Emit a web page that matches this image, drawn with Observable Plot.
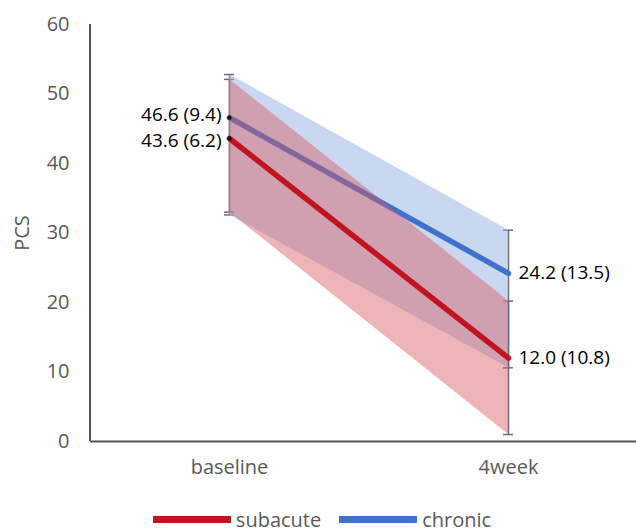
<!DOCTYPE html>
<html>
<head>
<meta charset="utf-8">
<script src="https://cdn.jsdelivr.net/npm/d3@7"></script>
<script src="https://cdn.jsdelivr.net/npm/@observablehq/plot@0.6"></script>
<style>
  html, body { margin: 0; padding: 0; background: #fff; }
  #chart { width: 636px; }
  .legend { display: flex; justify-content: center; align-items: center; gap: 18px; height: 36px; padding-top: 6px;
    font-family: "Open Sans", sans-serif; font-size: 20px; color: #595959; margin-left: 8px; }
  .legend .item { display: flex; align-items: center; gap: 5px; }
  .legend .sw { width: 78px; height: 7px; display: inline-block; }
</style>
</head>
<body>
<div id="chart"></div>
<script>
const timepoints = ["baseline", "4week"];
const seriesNames = ["subacute", "chronic"];
const subacuteMean = [43.6, 12.0];
const subacuteLow = [33.0, 1.0];
const subacuteHigh = [52.1, 20.2];
const chronicMean = [46.6, 24.2];
const chronicLow = [32.6, 10.6];
const chronicHigh = [52.8, 30.4];
const subacuteLabels = ["43.6 (6.2)", "12.0 (10.8)"];
const chronicLabels = ["46.6 (9.4)", "24.2 (13.5)"];
const yTicks = [0, 10, 20, 30, 40, 50, 60];

const colors = { subacute: "#c0141e", chronic: "#3f72cc" };

function rows(name, mean, low, high, labels, shift) {
  return timepoints.map((t, i) => ({ series: name, time: t, mean: mean[i], low: low[i], high: high[i], label: labels[i], shift }));
}
const subacute = rows("subacute", subacuteMean, subacuteLow, subacuteHigh, subacuteLabels, 2);
const chronic = rows("chronic", chronicMean, chronicLow, chronicHigh, chronicLabels, -3);
const all = [...subacute, ...chronic];
const caps = all.flatMap(d => [{ time: d.time, v: d.low }, { time: d.time, v: d.high }]);

const font = "Open Sans, sans-serif";

const plot = Plot.plot({
  width: 636,
  height: 495,
  marginLeft: 90,
  marginRight: 0,
  marginTop: 24,
  marginBottom: 54,
  style: { fontFamily: font, fontSize: "20px", color: "#595959", background: "#fff" },
  x: { type: "point", domain: timepoints, range: [229, 508], padding: 0 },
  y: { domain: [0, 60] },
  marks: [
    Plot.axisX({ tickSize: 0, tickPadding: 18, fontSize: 20, label: null }),
    Plot.axisY({ ticks: yTicks, tickSize: 0, tickPadding: 21, fontSize: 20, label: "PCS", labelAnchor: "center", labelOffset: 76, labelArrow: "none" }),
    Plot.ruleX(all, { x: "time", y1: "low", y2: "high", stroke: "#6b6b7a", strokeWidth: 1.5 }),
    Plot.ruleY(caps, { x1: "time", x2: "time", y: "v", insetLeft: -5, insetRight: -5, stroke: "#6b6b7a", strokeWidth: 1.5 }),
    Plot.areaY(chronic, { x: "time", y1: "low", y2: "high", fill: "#9fb6e6", fillOpacity: 0.55 }),
    Plot.lineY(chronic, { x: "time", y: "mean", stroke: colors.chronic, strokeWidth: 5.5 }),
    Plot.areaY(subacute, { x: "time", y1: "low", y2: "high", fill: "#d85c62", fillOpacity: 0.45 }),
    Plot.lineY(subacute, { x: "time", y: "mean", stroke: colors.subacute, strokeWidth: 5.5 }),
    Plot.ruleY([0], { stroke: "#555", strokeWidth: 2 }),
    Plot.dot(all.filter(d => d.time === "baseline"), { x: "time", y: "mean", r: 2.2, fill: "#111" }),
    Plot.text(subacute.filter(d => d.time === "baseline"), { x: "time", y: "mean", text: "label", textAnchor: "end", dx: -8, dy: 2, fill: "#000", fontSize: 19, fontFamily: font }),
    Plot.text(chronic.filter(d => d.time === "baseline"), { x: "time", y: "mean", text: "label", textAnchor: "end", dx: -8, dy: -3, fill: "#000", fontSize: 19, fontFamily: font }),
    Plot.text(all.filter(d => d.time === "4week"), { x: "time", y: "mean", text: "label", textAnchor: "start", dx: 10, fill: "#000", fontSize: 19, fontFamily: font })
  ]
});
// left axis line
d3.select(plot).append("line")
  .attr("x1", 90).attr("x2", 90).attr("y1", 24).attr("y2", 441)
  .attr("stroke", "#555").attr("stroke-width", 2);

document.getElementById("chart").appendChild(plot);

const legend = document.createElement("div");
legend.className = "legend";
seriesNames.forEach(n => {
  const item = document.createElement("span");
  item.className = "item";
  const sw = document.createElement("span");
  sw.className = "sw";
  sw.style.background = colors[n];
  const tx = document.createElement("span");
  tx.textContent = n;
  item.appendChild(sw); item.appendChild(tx);
  legend.appendChild(item);
});
document.getElementById("chart").appendChild(legend);
</script>
</body>
</html>
